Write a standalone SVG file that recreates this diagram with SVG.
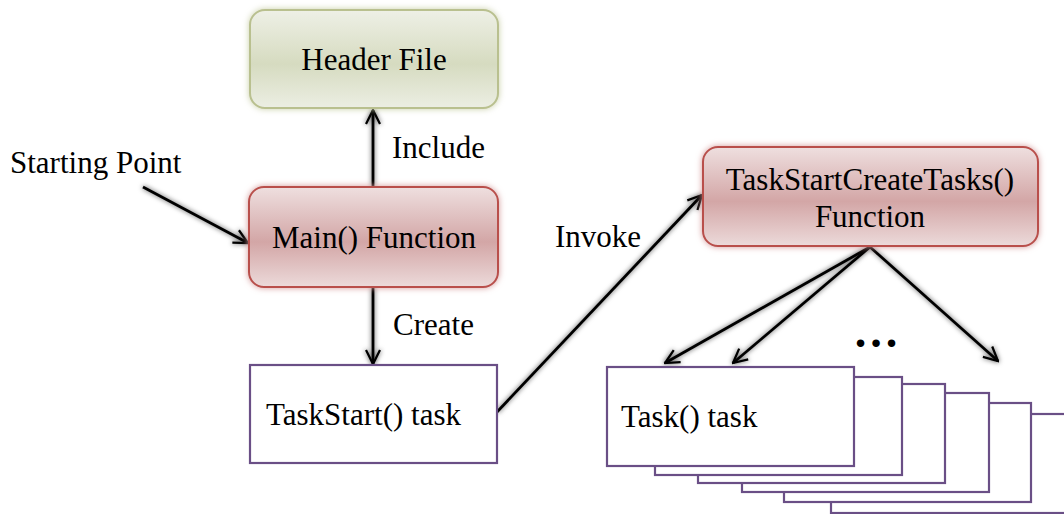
<svg xmlns="http://www.w3.org/2000/svg" width="1064" height="514" viewBox="0 0 1064 514">
<defs>
<linearGradient id="gGreen" x1="0" y1="0" x2="0" y2="1">
<stop offset="0" stop-color="#eef0e6"/><stop offset="0.55" stop-color="#d6dbc0"/><stop offset="1" stop-color="#eceee3"/>
</linearGradient>
<linearGradient id="gRed" x1="0" y1="0" x2="0" y2="1">
<stop offset="0" stop-color="#eedfdf"/><stop offset="0.55" stop-color="#d3a6a6"/><stop offset="1" stop-color="#ecdada"/>
</linearGradient>
<filter id="glowG" x="-10%" y="-10%" width="120%" height="120%"><feGaussianBlur in="SourceAlpha" stdDeviation="3" result="b"/><feFlood flood-color="#c9cfa8"/><feComposite in2="b" operator="in"/><feMerge><feMergeNode/><feMergeNode in="SourceGraphic"/></feMerge></filter>
<filter id="glowR" x="-10%" y="-10%" width="120%" height="120%"><feGaussianBlur in="SourceAlpha" stdDeviation="3" result="b"/><feFlood flood-color="#d49a9a"/><feComposite in2="b" operator="in"/><feMerge><feMergeNode/><feMergeNode in="SourceGraphic"/></feMerge></filter>
<filter id="shadow" x="-20%" y="-20%" width="140%" height="140%"><feGaussianBlur in="SourceAlpha" stdDeviation="2.5" result="b"/><feFlood flood-color="#000" flood-opacity="0.7"/><feComposite in2="b" operator="in"/><feMerge><feMergeNode/><feMergeNode in="SourceGraphic"/></feMerge></filter>
<marker id="arr" viewBox="0 0 12 12" refX="11" refY="6" markerWidth="6" markerHeight="6" markerUnits="strokeWidth" orient="auto">
<path d="M1,1 L11,6 L1,11" fill="none" stroke="#000" stroke-width="1.6"/>
</marker>
<style>
text{font-family:"Liberation Serif","Times New Roman",serif;font-size:31px;fill:#000}
.grn{fill:url(#gGreen);stroke:#b9c08f;stroke-width:2;filter:url(#glowG)}
.red{fill:url(#gRed);stroke:#b9504c;stroke-width:2;filter:url(#glowR)}
.tsk{fill:#fff;stroke:#6a4f86;stroke-width:2.2}
.con{fill:none;stroke:#000;stroke-width:2.8;marker-end:url(#arr)}
</style>
</defs>

<g id="connectors" filter="url(#shadow)">
<line class="con" x1="143" y1="187" x2="248" y2="243"/>
<line class="con" x1="373" y1="187" x2="373" y2="110"/>
<line class="con" x1="373" y1="286" x2="373" y2="364"/>
<line class="con" x1="497" y1="412" x2="702" y2="195"/>
<line class="con" x1="870" y1="247" x2="665" y2="363"/>
<line class="con" x1="870" y1="247" x2="733" y2="363"/>
<line class="con" x1="870" y1="247" x2="998" y2="361"/>
</g>

<g id="header-file">
<rect class="grn" x="250" y="10" width="248" height="98" rx="15"/>
<text x="374" y="70" text-anchor="middle">Header File</text>
</g>

<g id="main-function">
<rect class="red" x="249" y="187" width="249" height="100" rx="15"/>
<text x="374" y="248" text-anchor="middle">Main() Function</text>
</g>

<g id="create-tasks-function">
<rect class="red" x="703" y="147" width="335" height="99" rx="15"/>
<text x="870" y="190" text-anchor="middle">TaskStartCreateTasks()</text>
<text x="870" y="227" text-anchor="middle">Function</text>
</g>

<g id="taskstart-task">
<rect class="tsk" x="250" y="365" width="247" height="98"/>
<text x="266" y="425">TaskStart() task</text>
</g>

<g id="task-stack">
<rect class="tsk" x="831" y="414" width="247" height="99"/>
<rect class="tsk" x="784" y="403" width="247" height="99"/>
<rect class="tsk" x="742" y="393" width="247" height="99"/>
<rect class="tsk" x="698" y="384" width="247" height="99"/>
<rect class="tsk" x="655" y="377" width="247" height="98"/>
<rect class="tsk" x="607" y="367" width="247" height="99"/>
<text x="621" y="427">Task() task</text>
</g>

<g id="labels">
<text x="10" y="173">Starting Point</text>
<text x="392" y="158">Include</text>
<text x="393" y="335">Create</text>
<text x="555" y="247">Invoke</text>
<text x="876" y="347" text-anchor="middle" style="font-size:46px;font-weight:bold">…</text>
</g>
</svg>
